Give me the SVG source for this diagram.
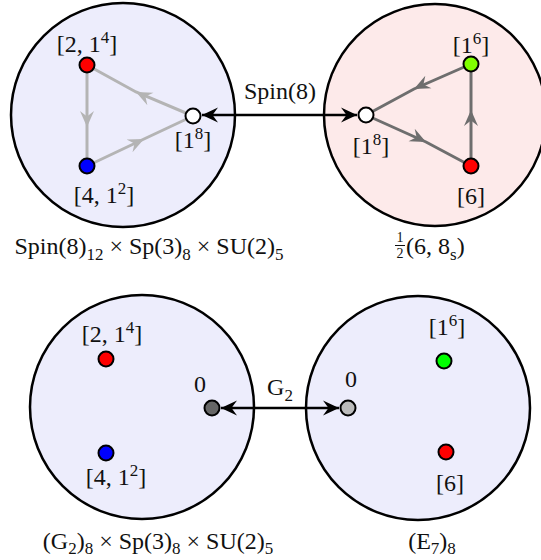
<svg xmlns="http://www.w3.org/2000/svg" width="541" height="560" viewBox="0 0 541 560">
<style>
text{font-family:"Liberation Serif","Times New Roman",serif;font-size:24px;fill:#111;text-anchor:middle}
.s{font-size:17px}
.disk{stroke:#000;stroke-width:2.5}
.blue{fill:#ededfc}
.pink{fill:#fdeaea}
.nd{stroke:#000;stroke-width:2}
.e1{fill:none;stroke:#b4b4b4;stroke-width:3;marker-mid:url(#ml)}
.e2{fill:none;stroke:#6e6e6e;stroke-width:3;marker-mid:url(#md)}
.conn{stroke:#000;stroke-width:2.5;marker-start:url(#ak);marker-end:url(#ak)}
</style>
<defs>
<marker id="ak" markerUnits="userSpaceOnUse" markerWidth="20" markerHeight="20" refX="16" refY="10" orient="auto-start-reverse" viewBox="0 0 20 20"><path d="M16,10 L0,2.5 L5.5,10 L0,17.5 Z" fill="#000"/></marker>
<marker id="ml" markerUnits="userSpaceOnUse" markerWidth="20" markerHeight="20" refX="16" refY="10" orient="auto" viewBox="0 0 20 20"><path d="M16,10 L0,3 L5.5,10 L0,17 Z" fill="#b4b4b4"/></marker>
<marker id="md" markerUnits="userSpaceOnUse" markerWidth="20" markerHeight="20" refX="16" refY="10" orient="auto" viewBox="0 0 20 20"><path d="M16,10 L0,3 L5.5,10 L0,17 Z" fill="#6e6e6e"/></marker>
</defs>

<g id="disk-tl"><circle class="disk blue" cx="123" cy="115" r="112"/></g>
<g id="disk-tr"><circle class="disk pink" cx="435" cy="115" r="111"/></g>
<g id="disk-bl"><circle class="disk blue" cx="142" cy="407" r="112"/></g>
<g id="disk-br"><circle class="disk blue" cx="418" cy="408" r="112"/></g>

<g id="edges">
<path class="e1" d="M87,65 L87,127 L87,166"/>
<path class="e1" d="M193,116 L136,92 L87,65"/>
<path class="e1" d="M87,166 L144,139 L193,116"/>
<path class="e2" d="M471,64 L414,89 L366,115"/>
<path class="e2" d="M366,115 L426,142 L471,166"/>
<path class="e2" d="M471,166 L471,110 L471,64"/>
</g>

<g id="connectors">
<line class="conn" x1="202" y1="115" x2="357" y2="115"/>
<line class="conn" x1="221" y1="408" x2="339" y2="408"/>
</g>

<g id="n-tl-2-14"><circle class="nd" cx="87" cy="65" r="7.5" fill="#ff0000"/><text x="87" y="52">[2, 1<tspan class="s" dy="-9">4</tspan><tspan dy="9">]</tspan></text></g>
<g id="n-tl-4-12"><circle class="nd" cx="87" cy="166" r="7.5" fill="#0000ff"/><text x="104" y="203">[4, 1<tspan class="s" dy="-9">2</tspan><tspan dy="9">]</tspan></text></g>
<g id="n-tl-18"><circle class="nd" cx="193" cy="116" r="7.5" fill="#ffffff"/><text x="193" y="148">[1<tspan class="s" dy="-9">8</tspan><tspan dy="9">]</tspan></text></g>

<g id="n-tr-16"><circle class="nd" cx="471" cy="64" r="7.5" fill="#80ff00"/><text x="471" y="53">[1<tspan class="s" dy="-9">6</tspan><tspan dy="9">]</tspan></text></g>
<g id="n-tr-6"><circle class="nd" cx="471" cy="166" r="7.5" fill="#ff0000"/><text x="471" y="204">[6]</text></g>
<g id="n-tr-18"><circle class="nd" cx="366" cy="115" r="7.5" fill="#ffffff"/><text x="371" y="154">[1<tspan class="s" dy="-9">8</tspan><tspan dy="9">]</tspan></text></g>

<g id="n-bl-2-14"><circle class="nd" cx="106" cy="359" r="7.5" fill="#ff0000"/><text x="112" y="342">[2, 1<tspan class="s" dy="-9">4</tspan><tspan dy="9">]</tspan></text></g>
<g id="n-bl-4-12"><circle class="nd" cx="106" cy="453" r="7.5" fill="#0000ff"/><text x="116" y="485">[4, 1<tspan class="s" dy="-9">2</tspan><tspan dy="9">]</tspan></text></g>
<g id="n-bl-0"><circle class="nd" cx="212" cy="408" r="7.5" fill="#666666"/><text x="200" y="392">0</text></g>

<g id="n-br-0"><circle class="nd" cx="348" cy="408" r="7.5" fill="#bbbbbb"/><text x="351" y="387">0</text></g>
<g id="n-br-16"><circle class="nd" cx="444" cy="361" r="7.5" fill="#00ff00"/><text x="447" y="335">[1<tspan class="s" dy="-9">6</tspan><tspan dy="9">]</tspan></text></g>
<g id="n-br-6"><circle class="nd" cx="446" cy="452" r="7.5" fill="#ff0000"/><text x="450" y="491">[6]</text></g>

<g id="labels">
<text x="280" y="99">Spin(8)</text>
<text x="280" y="395">G<tspan class="s" dy="6">2</tspan></text>
<text x="149" y="254">Spin(8)<tspan class="s" dy="6">12</tspan><tspan dy="-6"> × Sp(3)</tspan><tspan class="s" dy="6">8</tspan><tspan dy="-6"> × SU(2)</tspan><tspan class="s" dy="6">5</tspan></text>
<text x="400" y="242" style="font-size:14px">1</text>
<line x1="395" y1="245.5" x2="405" y2="245.5" stroke="#111" stroke-width="1"/>
<text x="400" y="258" style="font-size:14px">2</text>
<text x="406" y="254" style="text-anchor:start">(6, 8<tspan class="s" dy="6">s</tspan><tspan dy="-6">)</tspan></text>
<text x="158" y="549">(G<tspan class="s" dy="5">2</tspan><tspan dy="-5">)</tspan><tspan class="s" dy="5">8</tspan><tspan dy="-5"> × Sp(3)</tspan><tspan class="s" dy="5">8</tspan><tspan dy="-5"> × SU(2)</tspan><tspan class="s" dy="5">5</tspan></text>
<text x="432" y="549">(E<tspan class="s" dy="5">7</tspan><tspan dy="-5">)</tspan><tspan class="s" dy="5">8</tspan></text>
</g>
</svg>
